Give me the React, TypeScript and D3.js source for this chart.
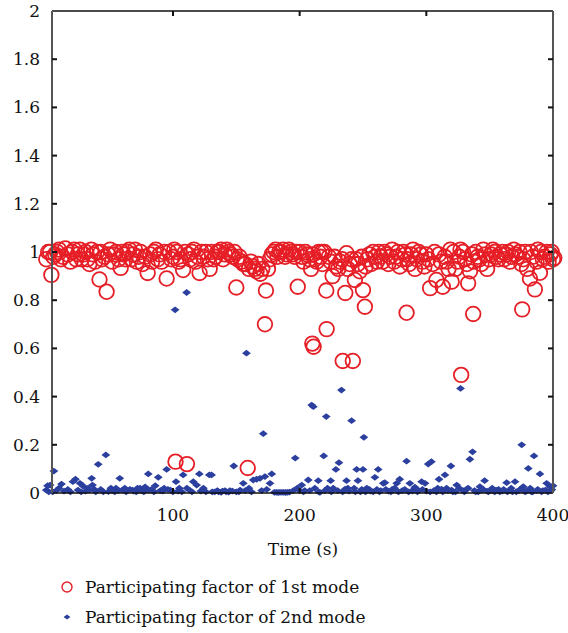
import React, { useRef, useEffect } from 'react';
import * as d3 from 'd3';

// participating factor of the 1st mode: [time (s), value]
const mode1Points: [number, number][] = [
  [0, 0.97], [1.5, 1.0], [3, 1.0], [4, 0.905], [5.5, 0.98], [7, 0.99], [8.5, 1.0], [10, 1.01],
  [11.5, 0.97], [13, 0.98], [15, 1.015], [17, 0.99], [19, 0.96], [20.5, 1.0], [22, 1.01], [23.5, 0.97],
  [25, 0.99], [26.5, 1.01], [28, 0.97], [29.5, 0.99], [31, 1.0], [32.5, 0.97], [34, 0.95], [35.5, 1.01],
  [37, 0.99], [38.5, 0.96], [40, 1.0], [42, 0.886], [43, 1.0], [44, 0.97], [46, 0.98], [47.6, 0.835],
  [49, 0.99], [50.5, 1.01], [52, 0.96], [53.5, 0.99], [55, 1.0], [57, 0.97], [58.7, 0.934], [59.5, 1.0],
  [61, 0.99], [62.5, 0.97], [64, 1.0], [65.5, 1.01], [67, 0.97], [68.5, 0.99], [70, 1.01], [71.5, 0.96],
  [73, 0.98], [74.5, 1.0], [76, 0.95], [78, 0.98], [80, 0.913], [82, 0.99], [83.5, 0.96], [85, 1.0],
  [86.5, 1.01], [88, 0.97], [89.5, 0.99], [91, 0.96], [93, 1.0], [95, 0.89], [97, 1.0], [98.5, 0.97],
  [100, 0.98], [101, 1.01], [102, 0.13], [103, 1.0], [104.5, 0.96], [106, 0.97], [108, 0.925], [109.5, 1.0],
  [111, 0.12], [112, 0.99], [113.5, 0.97], [115, 1.0], [116.5, 1.01], [118, 0.96], [119.5, 0.98], [121, 0.913],
  [122.5, 1.0], [124, 0.98], [126, 1.0], [127.5, 0.97], [129, 0.93], [130.5, 1.0], [132, 0.97], [133.5, 0.98],
  [135, 1.0], [136.5, 1.0], [138, 1.01], [139.5, 0.97], [141, 0.99], [142.5, 1.01], [144, 1.0], [145.5, 0.99],
  [147, 0.98], [148.5, 1.0], [150, 0.853], [151, 0.97], [152.5, 0.98], [154, 0.96], [155.5, 0.95], [157, 0.95],
  [159, 0.104], [160, 0.93], [161.5, 0.96], [163, 0.94], [164.5, 0.93], [166, 0.92], [167.5, 0.95], [169, 0.91],
  [170.5, 0.93], [172.6, 0.7], [173.4, 0.84], [175, 0.93], [176.5, 0.97], [178, 0.99], [179.5, 1.0], [181, 1.01],
  [182.5, 0.98], [184, 1.0], [185.5, 1.0], [187, 1.01], [188.5, 0.98], [190, 0.99], [191.5, 1.01], [193, 1.0],
  [194.5, 0.99], [196, 0.98], [197.5, 1.0], [198.5, 0.856], [200, 1.0], [201.5, 0.98], [203, 0.96], [204.5, 1.0],
  [206, 0.99], [207.5, 0.97], [209, 0.93], [210, 0.62], [210.5, 0.99], [211, 0.607], [212, 0.97], [213.5, 0.96],
  [215, 1.0], [216.5, 0.98], [217.5, 1.0], [218, 0.95], [219.5, 1.0], [221, 0.84], [221.3, 0.68], [223, 0.98],
  [224.5, 0.96], [226, 0.9], [227.5, 0.98], [229, 0.94], [230.5, 0.93], [232, 0.96], [233.5, 0.97], [234, 0.548],
  [236, 0.83], [237, 0.995], [238, 0.93], [239.5, 0.95], [241, 0.97], [242, 0.548], [243.6, 0.884], [244.5, 0.97],
  [246, 0.95], [247.5, 0.92], [249, 0.98], [250, 0.842], [251.5, 0.773], [252, 0.94], [253.5, 0.97], [255, 0.99],
  [256.5, 0.95], [258, 1.0], [259.5, 0.98], [261, 0.96], [262.5, 1.0], [264, 0.98], [265.5, 0.96], [267, 1.0],
  [268.5, 0.99], [270, 0.95], [271.5, 0.98], [273, 1.01], [274.5, 0.96], [276, 0.98], [277.5, 1.0], [279, 0.94],
  [280.5, 0.97], [282, 1.0], [283.5, 0.99], [284.4, 0.748], [285, 0.97], [286.5, 0.95], [288, 0.99], [289.5, 1.01],
  [291, 0.93], [292.5, 0.97], [294, 1.0], [295.5, 0.99], [297, 0.96], [298.5, 0.94], [300, 0.99], [301.5, 0.97],
  [303, 0.85], [305, 0.95], [306.5, 1.0], [308, 0.884], [310, 0.99], [311.5, 0.96], [313, 0.856], [314.5, 0.98],
  [316, 0.96], [317.5, 0.93], [319, 1.01], [320, 0.877], [321.5, 1.0], [323, 0.93], [324.5, 0.96], [326, 0.98],
  [327, 1.01], [327.5, 0.49], [329, 1.0], [330.5, 0.97], [332, 0.95], [333, 0.87], [334.5, 0.92], [336, 0.99],
  [337, 0.743], [337.5, 0.96], [339, 1.0], [340.5, 0.98], [342, 0.97], [343.5, 0.95], [345, 1.01], [346.5, 0.99],
  [348, 0.93], [349.5, 0.97], [351, 0.99], [352.5, 1.01], [354, 1.0], [355.5, 0.98], [357, 0.97], [358.5, 0.99],
  [360, 1.0], [361.5, 0.97], [363, 0.99], [364.5, 1.0], [366, 0.96], [367.5, 0.98], [369, 1.01], [370.5, 0.99],
  [372, 0.98], [373.5, 1.0], [375, 0.95], [375.7, 0.762], [376.5, 0.97], [378, 1.0], [379.5, 0.93], [381.8, 0.89],
  [382.5, 1.0], [384, 0.98], [385.7, 0.845], [387, 0.96], [388, 1.01], [389.7, 0.914], [390.5, 1.0], [392, 0.97],
  [393.5, 0.98], [395, 1.0], [396.5, 0.96], [398, 0.99], [399, 1.0], [400, 0.97], [401, 0.975],
];

// participating factor of the 2nd mode: [time (s), value]
const mode2Points: [number, number][] = [
  [0, 0.012], [1, 0.03], [2, 0.005], [3, 0.033], [5, 0.005], [6, 0.091], [8, 0.01], [10, 0.02],
  [12, 0.037], [14, 0.008], [17, 0.015], [19, 0.005], [21, 0.047], [23, 0.057], [25, 0.012], [26.6, 0.04],
  [27.5, 0.005], [29, 0.029], [31, 0.008], [33, 0.02], [34, 0.012], [35.8, 0.061], [36.5, 0.033], [38, 0.015],
  [39, 0.005], [41, 0.119], [43, 0.015], [45, 0.005], [47, 0.158], [49, 0.006], [51, 0.02], [52, 0.01],
  [54, 0.005], [55, 0.02], [57, 0.01], [58, 0.061], [60, 0.012], [62, 0.02], [63, 0.005], [66, 0.015],
  [68, 0.012], [69, 0.008], [71, 0.005], [72, 0.02], [74, 0.02], [75, 0.01], [77, 0.005], [78, 0.025],
  [80.5, 0.079], [81, 0.012], [83, 0.015], [85, 0.005], [86, 0.03], [88.4, 0.065], [90, 0.01], [92, 0.008],
  [93, 0.02], [95, 0.098], [96, 0.015], [98, 0.012], [100, 0.005], [101.7, 0.76], [102.4, 0.047], [104, 0.008],
  [105, 0.02], [107, 0.005], [108, 0.075], [110.8, 0.832], [111, 0.02], [113, 0.012], [115, 0.005], [116, 0.047],
  [118.7, 0.033], [120.8, 0.079], [122, 0.008], [124, 0.02], [126, 0.005], [128.7, 0.075], [130.5, 0.075], [131, 0.005],
  [133, 0.005], [135, 0.01], [136, 0.005], [138, 0.003], [139, 0.008], [141, 0.01], [142, 0.005], [144, 0.004],
  [145, 0.01], [147, 0.008], [148, 0.112], [150, 0.005], [152, 0.005], [153, 0.012], [155.5, 0.04], [157, 0.01],
  [158, 0.58], [160, 0.02], [162, 0.005], [163.4, 0.054], [166, 0.057], [168.7, 0.061], [170, 0.01], [171.3, 0.246],
  [172.6, 0.068], [174, 0.015], [176.6, 0.04], [178, 0.079], [180, 0.003], [181.5, 0.003], [183, 0.002], [184.5, 0.003],
  [186, 0.003], [187.5, 0.003], [189, 0.002], [190.5, 0.003], [192, 0.004], [195, 0.01], [196.5, 0.145], [198, 0.02],
  [200, 0.01], [201.6, 0.033], [203, 0.005], [204, 0.01], [206.8, 0.054], [208, 0.01], [209.5, 0.365], [210.8, 0.358],
  [212, 0.02], [214.7, 0.051], [215, 0.005], [216, 0.003], [219, 0.154], [220, 0.01], [221, 0.317], [222, 0.02],
  [224.5, 0.051], [225, 0.005], [226.5, 0.02], [228.6, 0.098], [230, 0.01], [231, 0.126], [233, 0.427], [234, 0.005],
  [235.8, 0.016], [237, 0.051], [238, 0.02], [239, 0.008], [241, 0.3], [243, 0.02], [244, 0.005], [245, 0.098],
  [246, 0.051], [248, 0.005], [249, 0.015], [250, 0.098], [250.7, 0.231], [252, 0.005], [253, 0.02], [255, 0.015],
  [256, 0.008], [258, 0.005], [259.4, 0.065], [261, 0.015], [262, 0.098], [263, 0.005], [264, 0.01], [266, 0.04],
  [267.3, 0.043], [268, 0.015], [270, 0.008], [272, 0.005], [273, 0.015], [275, 0.02], [276.6, 0.04], [278, 0.005],
  [279, 0.057], [281, 0.01], [283, 0.015], [284.4, 0.132], [286, 0.005], [287, 0.04], [289, 0.008], [290, 0.015],
  [291, 0.024], [293, 0.005], [294, 0.01], [296.3, 0.047], [297, 0.015], [299, 0.04], [300, 0.008], [301.5, 0.12],
  [303, 0.005], [304, 0.13], [306, 0.01], [308, 0.005], [309, 0.02], [310, 0.057], [312, 0.016], [313, 0.005],
  [314.7, 0.075], [316, 0.02], [317, 0.01], [319.4, 0.112], [320, 0.012], [321, 0.005], [323, 0.005], [324, 0.033],
  [326, 0.02], [327, 0.434], [329, 0.01], [330, 0.005], [331.8, 0.016], [333, 0.02], [334.4, 0.14], [336.5, 0.171],
  [338, 0.01], [339, 0.005], [341, 0.005], [342.3, 0.026], [344, 0.012], [345, 0.015], [346, 0.051], [348, 0.008],
  [349, 0.005], [351, 0.01], [352, 0.02], [354, 0.005], [355, 0.012], [357, 0.015], [358, 0.005], [360, 0.008],
  [361, 0.015], [363.4, 0.043], [364, 0.005], [366, 0.01], [367, 0.02], [368, 0.005], [370, 0.047], [371, 0.005],
  [373, 0.01], [374, 0.015], [375.3, 0.2], [376.5, 0.026], [378, 0.005], [379, 0.008], [380.5, 0.102], [382, 0.02],
  [383, 0.005], [384, 0.005], [385, 0.154], [387, 0.01], [388, 0.015], [389.7, 0.079], [391, 0.005], [392, 0.01],
  [394, 0.012], [395, 0.04], [396, 0.005], [397.6, 0.026], [398.5, 0.01], [399, 0.015], [400, 0.03],
];

const xTicks = [100, 200, 300, 400];
const yTicks = [0, 0.2, 0.4, 0.6, 0.8, 1, 1.2, 1.4, 1.6, 1.8, 2];
const legendLabels = ['Participating factor of 1st mode', 'Participating factor of 2nd mode'];
const xTitle = 'Time (s)';

const width = 568;
const height = 633;
const left = 52;
const right = 553;
const top = 11;
const bottom = 493;
const red = '#e61e26';
const blue = '#2b3f9e';
const font = '"DejaVu Serif", "Liberation Serif", serif';
const fontSize = '17px';
const diamond = 'M0,-3.4L4.4,0L0,3.4L-4.4,0Z';

const App = () => {
  const ref = useRef<SVGSVGElement>(null);

  useEffect(() => {
    const svg = d3.select(ref.current);
    svg.selectAll('*').remove();

    const x = d3.scaleLinear().domain([4.5, 400]).range([left, right]);
    const y = d3.scaleLinear().domain([0, 2]).range([bottom, top]);

    // mode 1 circles
    svg
      .append('g')
      .selectAll('circle')
      .data(mode1Points)
      .enter()
      .append('circle')
      .attr('cx', d => x(d[0]))
      .attr('cy', d => y(d[1]))
      .attr('r', 7.3)
      .attr('fill', 'none')
      .attr('stroke', red)
      .attr('stroke-width', 1.8);

    // mode 2 diamonds
    svg
      .append('g')
      .selectAll('path')
      .data(mode2Points)
      .enter()
      .append('path')
      .attr('d', diamond)
      .attr('transform', d => `translate(${x(d[0])},${y(d[1])})`)
      .attr('fill', blue);

    // frame
    const frame = svg.append('g');
    frame.append('line').attr('x1', left).attr('x2', right).attr('y1', top).attr('y2', top)
      .attr('stroke', '#111').attr('stroke-width', 1.3);
    frame.append('line').attr('x1', left).attr('x2', right).attr('y1', bottom).attr('y2', bottom)
      .attr('stroke', '#111').attr('stroke-width', 1.3);
    frame.append('line').attr('x1', left).attr('x2', left).attr('y1', top).attr('y2', bottom)
      .attr('stroke', '#555').attr('stroke-width', 2);
    frame.append('line').attr('x1', right).attr('x2', right).attr('y1', top).attr('y2', bottom)
      .attr('stroke', '#555').attr('stroke-width', 2);

    // inward ticks
    const ticks = svg.append('g').attr('stroke', '#111').attr('stroke-width', 2);
    yTicks.slice(1, -1).forEach(v => {
      ticks.append('line').attr('x1', left).attr('x2', left + 5).attr('y1', y(v)).attr('y2', y(v));
      ticks.append('line').attr('x1', right - 5).attr('x2', right).attr('y1', y(v)).attr('y2', y(v));
    });
    xTicks.slice(0, -1).forEach(v => {
      ticks.append('line').attr('x1', x(v)).attr('x2', x(v)).attr('y1', bottom).attr('y2', bottom - 5);
      ticks.append('line').attr('x1', x(v)).attr('x2', x(v)).attr('y1', top).attr('y2', top + 5);
    });

    // tick labels
    svg
      .append('g')
      .selectAll('text')
      .data(yTicks)
      .enter()
      .append('text')
      .attr('x', 40)
      .attr('y', d => y(d) + 6)
      .attr('text-anchor', 'end')
      .style('font-family', font)
      .style('font-size', fontSize)
      .attr('fill', '#111')
      .text(d => String(+d.toFixed(1)));

    svg
      .append('g')
      .selectAll('text')
      .data(xTicks)
      .enter()
      .append('text')
      .attr('x', d => x(d))
      .attr('y', 521)
      .attr('text-anchor', 'middle')
      .style('font-family', font)
      .style('font-size', fontSize)
      .attr('fill', '#111')
      .text(d => String(d));

    svg
      .append('text')
      .attr('x', 303)
      .attr('y', 555)
      .attr('text-anchor', 'middle')
      .style('font-family', font)
      .style('font-size', fontSize)
      .attr('fill', '#111')
      .text(xTitle);

    // legend
    const legend = svg.append('g');
    legend.append('circle').attr('cx', 67).attr('cy', 587).attr('r', 5)
      .attr('fill', 'none').attr('stroke', red).attr('stroke-width', 1.4);
    legend.append('path').attr('d', 'M0,-2.6L3.4,0L0,2.6L-3.4,0Z')
      .attr('transform', 'translate(67,617)').attr('fill', blue);
    legend
      .selectAll('text')
      .data(legendLabels)
      .enter()
      .append('text')
      .attr('x', 85)
      .attr('y', (d, i) => 593 + i * 30)
      .style('font-family', font)
      .style('font-size', fontSize)
      .attr('fill', '#111')
      .text(d => d);
  }, []);

  return (
    <svg
      ref={ref}
      width={width}
      height={height}
      style={{ position: 'absolute', left: 0, top: 0, background: '#fff' }}
    />
  );
};

export default App;
